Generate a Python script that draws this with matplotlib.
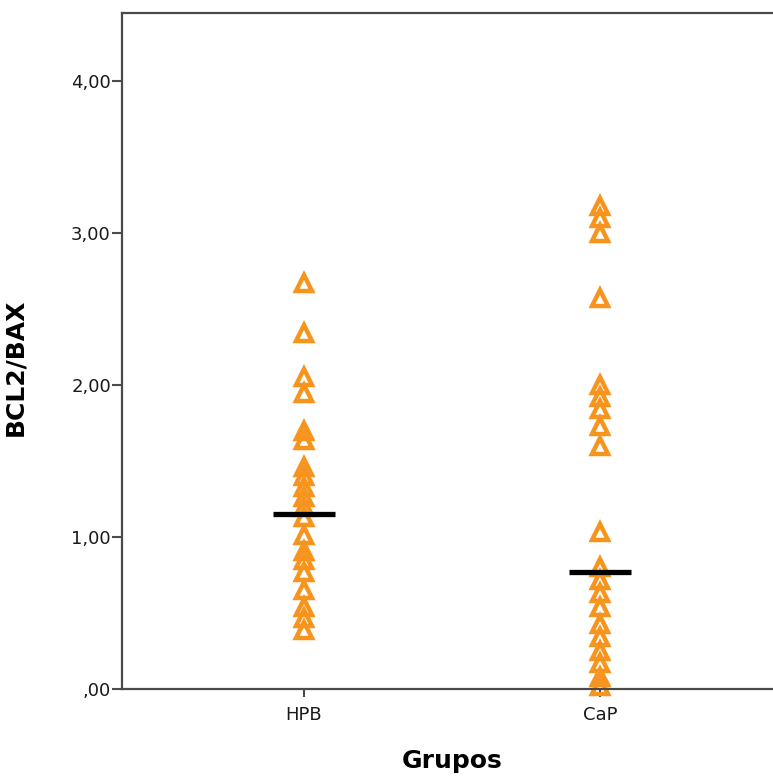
import matplotlib
matplotlib.use('Agg')
import matplotlib.pyplot as plt

groups = ['HPB', 'CaP']
hpb_vals = [2.67, 2.34, 2.05, 1.95, 1.70, 1.64, 1.46, 1.40, 1.33, 1.26, 1.20,
            1.13, 1.01, 0.91, 0.85, 0.77, 0.65, 0.54, 0.47, 0.39]
cap_vals = [3.18, 3.10, 3.00, 2.57, 2.00, 1.92, 1.84, 1.73, 1.60, 1.03, 0.80,
            0.72, 0.63, 0.54, 0.43, 0.34, 0.25, 0.17, 0.08, 0.02]
group_means = [1.15, 0.77]
y_ticks = [0, 1, 2, 3, 4]
y_ticklabels = [',00', '1,00', '2,00', '3,00', '4,00']

ORANGE = '#F7941D'
SPINE = '#4a4a4a'

fig = plt.figure(figsize=(7.73, 7.78), dpi=100)
ax = fig.add_axes([122 / 773, 89 / 778, 660 / 773, 676 / 778])

for i, vals in enumerate([hpb_vals, cap_vals]):
    x = i + 1
    ax.plot([x] * len(vals), vals, linestyle='none', marker='^', markersize=11.5,
            markerfacecolor='none', markeredgecolor=ORANGE, markeredgewidth=3.2,
            zorder=2, clip_on=False)
    ax.hlines(group_means[i], x - 0.105, x + 0.105, color='black', linewidth=3.8, zorder=3)

ax.set_xlim(0.385, 2.615)
ax.set_ylim(0, 4.447)
ax.set_xticks([1, 2])
ax.set_xticklabels(groups, fontsize=13)
ax.set_yticks(y_ticks)
ax.set_yticklabels(y_ticklabels, fontsize=13)

for side in ['left', 'bottom', 'top']:
    ax.spines[side].set_color(SPINE)
    ax.spines[side].set_linewidth(1.6)
ax.spines['right'].set_visible(False)
ax.tick_params(axis='y', direction='out', length=7, width=1.5, color=SPINE, pad=1, labelcolor='#1a1a1a')
ax.tick_params(axis='x', direction='out', length=6, width=1.5, color=SPINE, pad=6, labelcolor='#1a1a1a')

ax.set_ylabel('BCL2/BAX', fontsize=18, fontweight='bold')
ax.yaxis.set_label_coords(-0.144, 0.476)
ax.set_xlabel('Grupos', fontsize=18, fontweight='bold', labelpad=18)

fig.savefig('out.png', dpi=100)
